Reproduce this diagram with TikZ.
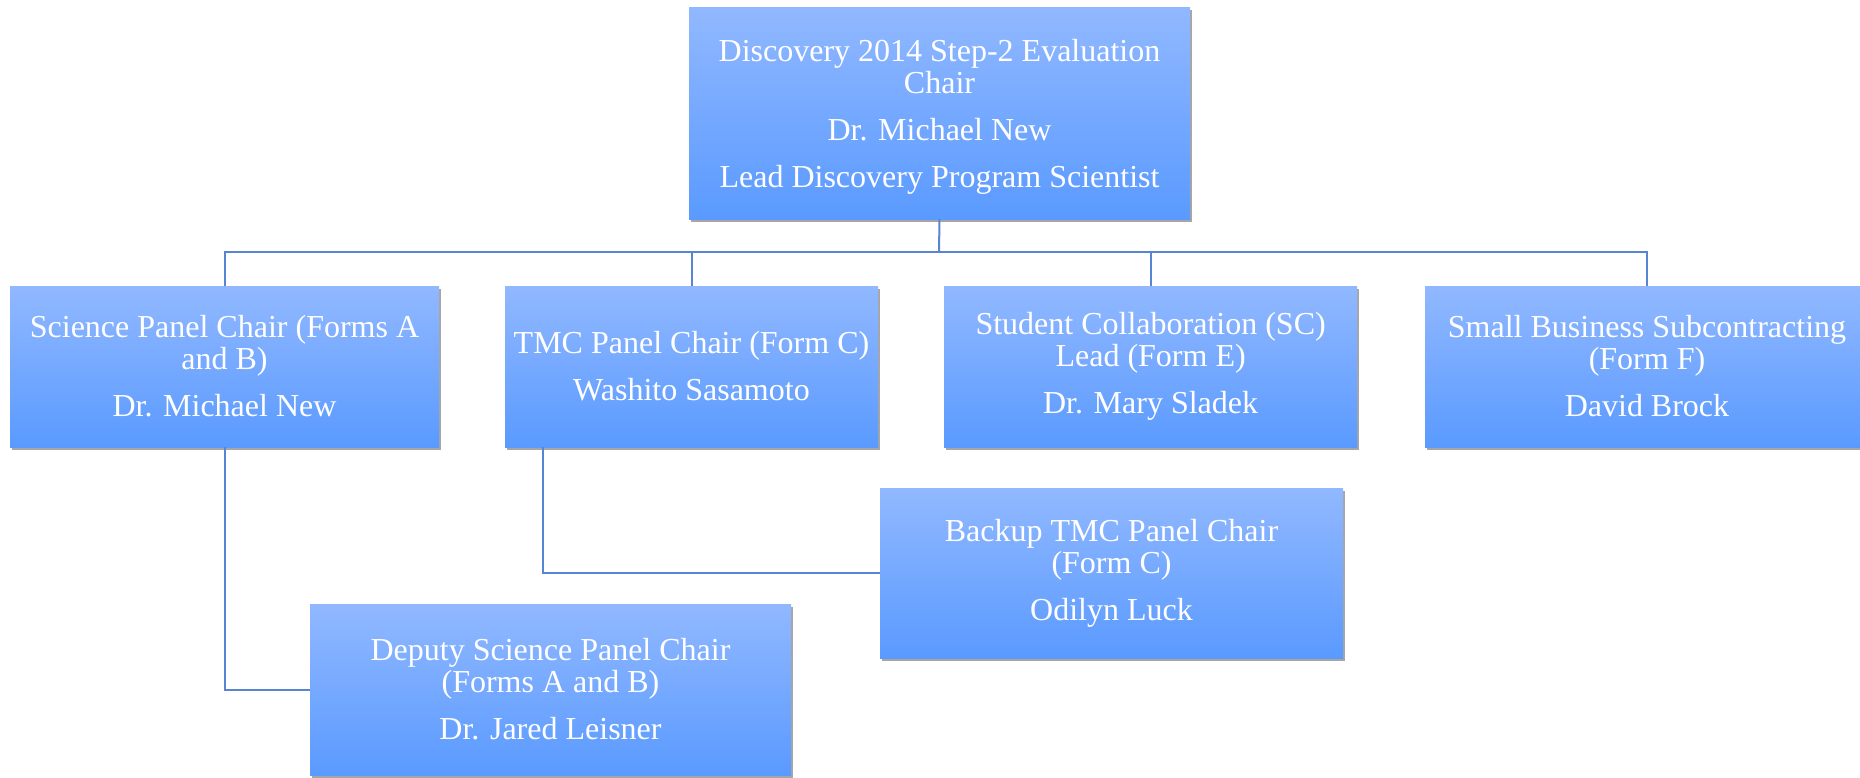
\documentclass[tikz,border=0pt]{standalone}
\usepackage{fontspec}
\setmainfont{Liberation Serif}
\usetikzlibrary{shadows}
\definecolor{boxtop}{RGB}{145,184,255}
\definecolor{boxbot}{RGB}{90,154,255}
\definecolor{linec}{RGB}{88,132,208}
\tikzset{
  orgbox/.style={rectangle, top color=boxtop, bottom color=boxbot, draw=none,
    text=white, align=center, inner sep=0pt,
    font=\fontsize{32}{32}\selectfont,
    drop shadow={shadow xshift=1.5pt, shadow yshift=-3pt, opacity=0.35, fill=black}},
  conn/.style={draw=linec, line width=2pt}
}
\newcommand{\pgap}{\\[15pt]}
\begin{document}
\begin{tikzpicture}[x=1pt,y=-1pt]
\useasboundingbox (0,0) rectangle (1860,777);
\node[orgbox, minimum width=501pt, minimum height=212pt] (top) at (939.5,113)
  {\rule{0pt}{30pt}Discovery 2014 Step-2 Evaluation\\Chair\pgap Dr. Michael New\pgap Lead Discovery Program Scientist};
\node[orgbox, minimum width=429pt, minimum height=161pt] (sci) at (224.5,366.5)
  {Science Panel Chair (Forms A\\and B)\pgap Dr. Michael New};
\node[orgbox, minimum width=373pt, minimum height=161pt] (tmc) at (691.5,366.5)
  {TMC Panel Chair (Form C)\pgap Washito Sasamoto};
\node[orgbox, minimum width=413pt, minimum height=161pt] (stu) at (1150.6,366.5)
  {Student Collaboration (SC)\\Lead (Form E)\pgap Dr. Mary Sladek};
\node[orgbox, minimum width=444pt, minimum height=161pt] (sb) at (1647,366.5)
  {Small Business Subcontracting\\(Form F)\pgap David Brock};
\node[orgbox, minimum width=463pt, minimum height=170pt] (bk) at (1111.5,573)
  {Backup TMC Panel Chair\\(Form C)\pgap Odilyn Luck};
\node[orgbox, minimum width=481pt, minimum height=171pt] (dep) at (550.5,689.5)
  {Deputy Science Panel Chair\\(Forms A and B)\pgap Dr. Jared Leisner};
% connectors
\coordinate (bus) at (939,252);
\draw[conn] (top.south) -- (bus);
\draw[conn] (sci.north) |- (bus) -| (sb.north);
\draw[conn] (bus) -| (tmc.north);
\draw[conn] (bus) -| (stu.north);
\draw[conn] (sci.south) |- (dep.west);
\coordinate (tmcd) at ([xshift=38pt]tmc.south west);
\draw[conn] (tmcd) |- (bk.west);
\end{tikzpicture}
\end{document}
